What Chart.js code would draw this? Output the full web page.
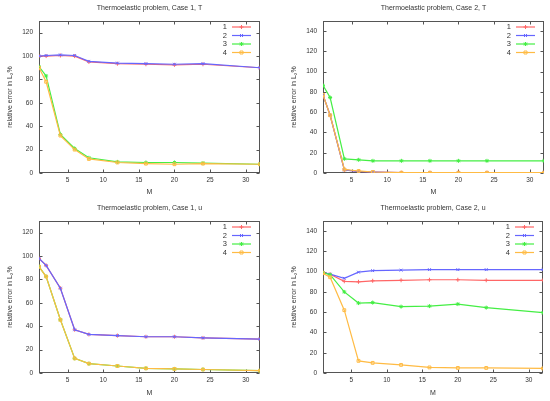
<!DOCTYPE html>
<html>
<head>
<meta charset="utf-8">
<script src="https://cdn.jsdelivr.net/npm/chart.js@4/dist/chart.umd.min.js"></script>
<style>
  html, body { margin: 0; padding: 0; background: #fff; }
  #wrap { display: grid; grid-template-columns: 275px 275px; width: 550px; }
  canvas { display: block; }
</style>
</head>
<body>
<div id="wrap">
  <canvas id="c1" width="275" height="200"></canvas>
  <canvas id="c2" width="275" height="200"></canvas>
  <canvas id="c3" width="275" height="201"></canvas>
  <canvas id="c4" width="275" height="201"></canvas>
</div>
<script>
// data
const M = [1, 2, 4, 6, 8, 12, 16, 20, 24, 32]
const seriesNames = ['1', '2', '3', '4']
const xTicks = [5, 10, 15, 20, 25, 30]
const yTicksA = [0, 20, 40, 60, 80, 100, 120]
const yTicksB = [0, 20, 40, 60, 80, 100, 120, 140]

const case1T_1 = [100, 100, 100.5, 100, 95, 93.5, 93, 92.5, 93, 90]
const case1T_2 = [100, 100.5, 101, 100.5, 95.5, 94, 93.5, 93, 93.5, 90]
const case1T_3 = [91, 83, 33, 21, 13, 9.5, 9, 9, 8.5, 7.5]
const case1T_4 = [90, 78, 32, 20, 12, 9, 8, 7.5, 8, 7.5]

const case2T_1 = [77, 57, 3, 1.5, 1, 0.3, 0.3, 0.3, 0.3, 0.3]
const case2T_2 = [77, 57, 3, 1.5, 1, 0.3, 0.3, 0.3, 0.3, 0.3]
const case2T_3 = [86.5, 74.5, 14, 13, 12, 12, 12, 12, 12, 12]
const case2T_4 = [77, 57, 3.5, 2, 1, 0.3, 0.3, 0.3, 0.3, 0.3]

const case1u_1 = [98, 92, 72.5, 37, 33, 32, 31, 31, 30, 29]
const case1u_2 = [98, 92, 72.5, 37, 33, 32, 31, 31, 30, 29]
const case1u_3 = [91, 82.5, 45.5, 12.5, 8, 6, 4, 3.5, 3, 2]
const case1u_4 = [91, 82.5, 45.5, 12.5, 8, 6, 4, 3.5, 3, 2]

const case2u_1 = [99, 97.5, 90.5, 90, 91, 91.5, 92, 92, 91.5, 91.5]
const case2u_2 = [99, 97.5, 93.5, 99.5, 101, 101.5, 102, 102, 102, 102]
const case2u_3 = [99, 97, 80, 69, 69.5, 65.5, 66, 68, 64.5, 59.5]
const case2u_4 = [98.5, 94.5, 62, 12, 10, 8, 5.5, 5, 5, 4.5]

const colors = ['#ff6666', '#6666ff', '#44ee44', '#ffbb44']
const marks = ['cross', 'crossRot', 'star', 'rect']
const FONT = 'Liberation Sans, Arial, sans-serif'
const TXT = '#333'

function mark(ctx, style, x, y, r, col) {
  ctx.save()
  ctx.strokeStyle = col
  ctx.lineWidth = 1
  ctx.beginPath()
  if (style == 'cross' || style == 'star') {
    ctx.moveTo(x - r, y); ctx.lineTo(x + r, y)
    ctx.moveTo(x, y - r); ctx.lineTo(x, y + r)
  }
  if (style == 'crossRot' || style == 'star') {
    let d = r * 0.75
    ctx.moveTo(x - d, y - d); ctx.lineTo(x + d, y + d)
    ctx.moveTo(x - d, y + d); ctx.lineTo(x + d, y - d)
  }
  if (style == 'rect') {
    ctx.rect(x - r * 0.75, y - r * 0.75, r * 1.5, r * 1.5)
  }
  ctx.stroke()
  ctx.restore()
}

// gnuplot-like frame with inward ticks on all sides, and key in the top right
const frame = {
  id: 'frame',
  beforeDatasetsDraw(chart) {
    const {ctx, chartArea: a, scales: {x, y}} = chart
    ctx.save()
    ctx.strokeStyle = '#555'
    ctx.lineWidth = 1
    const L = Math.round(a.left) + 0.5, R = Math.round(a.right) - 0.5
    const T = Math.round(a.top) + 0.5, B = Math.round(a.bottom) - 0.5
    ctx.strokeRect(L, T, R - L, B - T)
    ctx.beginPath()
    x.ticks.forEach(t => {
      let px = Math.round(x.getPixelForValue(t.value)) + 0.5
      ctx.moveTo(px, B); ctx.lineTo(px, B - 3)
      ctx.moveTo(px, T); ctx.lineTo(px, T + 3)
    })
    y.ticks.forEach(t => {
      let py = Math.round(y.getPixelForValue(t.value)) + 0.5
      ctx.moveTo(L, py); ctx.lineTo(L + 3, py)
      ctx.moveTo(R, py); ctx.lineTo(R - 3, py)
    })
    ctx.stroke()
    ctx.restore()
  },
  afterDatasetsDraw(chart) {
    const {ctx, chartArea: a} = chart
    ctx.save()
    ctx.font = '7.5px ' + FONT
    ctx.fillStyle = TXT
    ctx.textAlign = 'right'
    ctx.textBaseline = 'middle'
    chart.data.datasets.forEach((ds, i) => {
      let yy = a.top + 6 + i * 8.5
      let x1 = a.right - 28, x2 = a.right - 9
      ctx.fillText(ds.label, x1 - 5, yy)
      ctx.strokeStyle = ds.borderColor
      ctx.lineWidth = 1.2
      ctx.beginPath(); ctx.moveTo(x1, yy); ctx.lineTo(x2, yy); ctx.stroke()
      mark(ctx, marks[i], (x1 + x2) / 2, yy, 2, ds.borderColor)
    })
    ctx.restore()
  }
}

function makeChart(id, title, series, yMax, yTicks, yWidth, padRight, yTitlePad, xHeight) {
  return new Chart(document.getElementById(id), {
    type: 'line',
    data: {
      datasets: series.map((vals, i) => ({
        label: seriesNames[i],
        data: M.map((m, k) => ({ x: m, y: vals[k] })),
        borderColor: colors[i],
        backgroundColor: 'transparent',
        borderWidth: 1.2,
        pointStyle: marks[i],
        pointRadius: 2,
        pointBorderWidth: 1,
        pointBorderColor: colors[i],
        pointBackgroundColor: 'transparent',
        tension: 0,
        order: 3 - i
      }))
    },
    options: {
      responsive: false,
      animation: false,
      events: [],
      layout: { padding: { left: 0, right: padRight, top: 0, bottom: 0 } },
      plugins: {
        legend: { display: false },
        tooltip: { enabled: false },
        title: {
          display: true,
          fullSize: false,
          text: title,
          color: TXT,
          font: { family: FONT, size: 7, weight: 'normal' },
          padding: { top: 4, bottom: 8.6 }
        }
      },
      scales: {
        x: {
          type: 'linear',
          min: 1,
          max: 32,
          grid: { display: false, drawTicks: false },
          border: { display: false },
          afterBuildTicks: s => { s.ticks = xTicks.map(v => ({ value: v })) },
          afterFit: s => { s.height = xHeight },
          ticks: { color: TXT, font: { family: FONT, size: 6.5 }, padding: 3, maxRotation: 0, autoSkip: false },
          title: { display: true, text: 'M', color: TXT, font: { family: FONT, size: 7 }, padding: { top: 0, bottom: 3.8 } }
        },
        y: {
          type: 'linear',
          min: 0,
          max: yMax,
          grid: { display: false, drawTicks: false },
          border: { display: false },
          afterBuildTicks: s => { s.ticks = yTicks.map(v => ({ value: v })) },
          afterFit: s => { s.width = yWidth },
          ticks: { color: TXT, font: { family: FONT, size: 6.5 }, padding: 6, autoSkip: false },
          title: { display: true, text: 'relative error in L₂%', color: TXT, font: { family: FONT, size: 7 }, padding: { top: yTitlePad, bottom: 0 } }
        }
      }
    },
    plugins: [frame]
  })
}

makeChart('c1', 'Thermoelastic problem, Case 1, T', [case1T_1, case1T_2, case1T_3, case1T_4], 130, yTicksA, 39, 15, 5.8, 27)
makeChart('c2', 'Thermoelastic problem, Case 2, T', [case2T_1, case2T_2, case2T_3, case2T_4], 150, yTicksB, 48, 6, 14.5, 27)
makeChart('c3', 'Thermoelastic problem, Case 1, u', [case1u_1, case1u_2, case1u_3, case1u_4], 130, yTicksA, 39, 15, 5.8, 28)
makeChart('c4', 'Thermoelastic problem, Case 2, u', [case2u_1, case2u_2, case2u_3, case2u_4], 150, yTicksB, 48, 7, 14.5, 28)
</script>
</body>
</html>
